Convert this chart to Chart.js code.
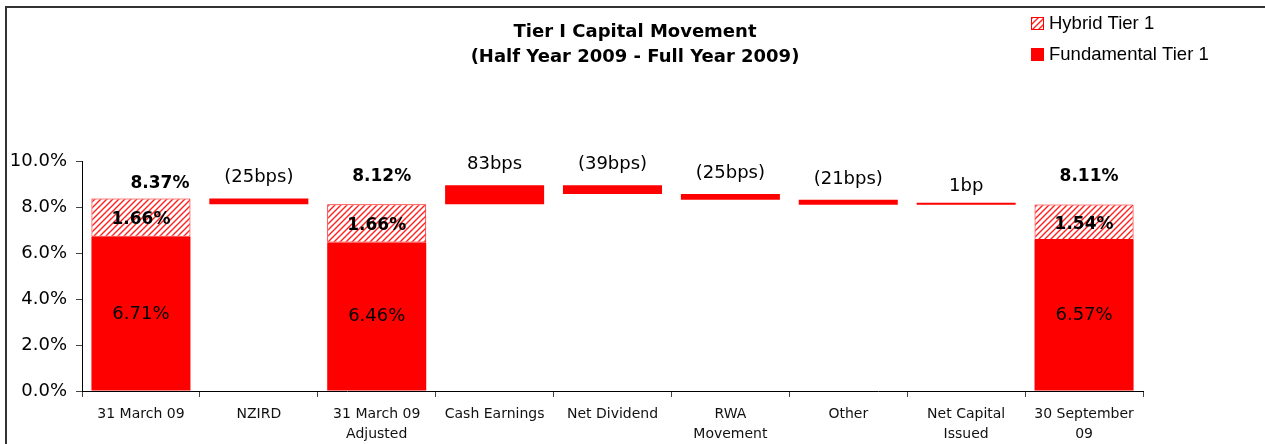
<!DOCTYPE html>
<html>
<head>
<meta charset="utf-8">
<script src="https://cdn.jsdelivr.net/npm/chart.js@4.4.0/dist/chart.umd.min.js"></script>
<style>
  html, body { margin: 0; padding: 0; background: #fff; }
  #wrap { position: relative; width: 1265px; height: 444px; }
</style>
</head>
<body>
<div id="wrap"><canvas id="c" width="1265" height="444"></canvas></div>
<script>
// ---- data ----
const categories = [
  '31 March 09', 'NZIRD', ['31 March 09', 'Adjusted'], 'Cash Earnings', 'Net Dividend',
  ['RWA', 'Movement'], 'Other', ['Net Capital', 'Issued'], ['30 September', '09']
];
const fundamentalTier1 = [6.71, null, 6.46, null, null, null, null, null, 6.57];
const hybridTier1      = [1.66, null, 1.66, null, null, null, null, null, 1.54];
const movementBps      = [null, -25, null, 83, -39, -25, -21, 1, null];
const yTicks = [0, 2, 4, 6, 8, 10];
const chartTitle = ['Tier I Capital Movement', '(Half Year 2009 - Full Year 2009)'];

// ---- build floating bars from the arrays ----
const totals = fundamentalTier1.map((f, i) => f == null ? null : +(f + hybridTier1[i]).toFixed(2));
const fundBars = [];
const hybBars = [];
let running = null;
for (let i = 0; i < categories.length; i++) {
  if (totals[i] != null) {
    fundBars.push([0, fundamentalTier1[i]]);
    hybBars.push([fundamentalTier1[i], totals[i]]);
    running = totals[i];
  } else {
    const next = +(running + movementBps[i] / 100).toFixed(2);
    fundBars.push([Math.min(running, next), Math.max(running, next)]);
    hybBars.push(null);
    running = next;
  }
}

// ---- hatch pattern ----
function makeHatch() {
  const p = document.createElement('canvas');
  p.width = 6; p.height = 6;
  const g = p.getContext('2d');
  g.fillStyle = '#fff';
  g.fillRect(0, 0, 6, 6);
  g.strokeStyle = '#ff2020';
  g.lineWidth = 1.4;
  g.beginPath();
  g.moveTo(-1, 7); g.lineTo(7, -1);
  g.moveTo(-4, 4); g.lineTo(4, -4);
  g.moveTo(2, 10); g.lineTo(10, 2);
  g.stroke();
  return document.getElementById('c').getContext('2d').createPattern(p, 'repeat');
}
const hatch = makeHatch();

const FONT = "'DejaVu Sans', Verdana, sans-serif";

function fmtBps(v) {
  const a = Math.abs(v);
  const s = a + (a === 1 ? 'bp' : 'bps');
  return v < 0 ? '(' + s + ')' : s;
}

const decorPlugin = {
  id: 'decor',
  beforeDraw(chart) {
    const ctx = chart.ctx;
    ctx.save();
    ctx.strokeStyle = '#333';
    ctx.lineWidth = 2;
    ctx.beginPath();
    ctx.moveTo(6, 444); ctx.lineTo(6, 7); ctx.lineTo(1265, 7);
    ctx.stroke();
    ctx.restore();
  },
  afterDraw(chart) {
    const ctx = chart.ctx;
    ctx.save();
    // title
    ctx.fillStyle = '#000';
    ctx.textAlign = 'center';
    ctx.textBaseline = 'middle';
    ctx.font = 'bold 18px ' + FONT;
    ctx.fillText(chartTitle[0], 635, 32);
    ctx.fillText(chartTitle[1], 635, 57);
    // legend
    const items = [
      { text: chart.data.datasets[1].label, fill: hatch, y: 23 },
      { text: chart.data.datasets[0].label, fill: '#ff0000', y: 54 }
    ];
    ctx.textAlign = 'left';
    ctx.font = "18.5px 'Liberation Sans', Arial, sans-serif";
    items.forEach(it => {
      ctx.fillStyle = it.fill;
      ctx.fillRect(1031, it.y - 6, 13, 13);
      if (it.fill === hatch) {
        ctx.strokeStyle = '#ff0000';
        ctx.lineWidth = 1;
        ctx.strokeRect(1031.5, it.y - 5.5, 12, 12);
      }
      ctx.fillStyle = '#000';
      ctx.fillText(it.text, 1049, it.y + 1);
    });
    ctx.restore();
  },
  afterDatasetsDraw(chart) {
    const ctx = chart.ctx;
    const y = chart.scales.y;
    const fMeta = chart.getDatasetMeta(0);
    ctx.save();
    ctx.fillStyle = '#000';
    ctx.textAlign = 'center';
    ctx.textBaseline = 'middle';
    for (let i = 0; i < categories.length; i++) {
      const bar = fMeta.data[i];
      const x = bar.x;
      if (totals[i] != null) {
        ctx.font = '18px ' + FONT;
        ctx.fillText(fundamentalTier1[i].toFixed(2) + '%', x, (y.getPixelForValue(0) + y.getPixelForValue(fundamentalTier1[i])) / 2);
        ctx.font = 'bold 17px ' + FONT;
        ctx.fillText(hybridTier1[i].toFixed(2) + '%', x, (y.getPixelForValue(fundamentalTier1[i]) + y.getPixelForValue(totals[i])) / 2 + 2);
        ctx.fillText(totals[i].toFixed(2) + '%', x + (i === 0 ? 19 : 5), y.getPixelForValue(totals[i]) - (i === 0 ? 15 : 28));
      } else {
        ctx.font = '18px ' + FONT;
        const top = Math.min(bar.y, bar.base);
        const off = Math.abs(movementBps[i]) < 5 ? 16 : 21;
        ctx.fillText(fmtBps(movementBps[i]), x, top - off);
      }
    }
    ctx.restore();
  }
};

new Chart(document.getElementById('c'), {
  type: 'bar',
  data: {
    labels: categories,
    datasets: [
      {
        label: 'Fundamental Tier 1',
        data: fundBars,
        backgroundColor: '#ff0000',
        borderWidth: 0,
        borderSkipped: false,
        minBarLength: 2,
        grouped: false,
        order: 1
      },
      {
        label: 'Hybrid Tier 1',
        data: hybBars,
        backgroundColor: hatch,
        borderColor: '#ff0000',
        borderWidth: 1,
        borderSkipped: false,
        grouped: false,
        order: 0
      }
    ]
  },
  options: {
    responsive: false,
    animation: false,
    devicePixelRatio: 1,
    layout: { padding: { top: 161, right: 122, left: 0, bottom: 0 } },
    plugins: {
      legend: { display: false },
      title: { display: false },
      tooltip: { enabled: false }
    },
    datasets: { bar: { categoryPercentage: 1, barPercentage: 0.84 } },
    scales: {
      x: {
        offset: true,
        grid: { display: true, offset: true, drawOnChartArea: false, drawTicks: true, tickLength: 6, color: '#444' },
        border: { display: true, color: '#000', width: 1 },
        ticks: { color: '#111', font: { family: FONT, size: 14, lineHeight: 1.45 }, maxRotation: 0, autoSkip: false, padding: 7 },
        afterFit(s) { s.height = 53; }
      },
      y: {
        min: 0, max: 10,
        afterBuildTicks(s) { s.ticks = yTicks.map(v => ({ value: v })); },
        grid: { display: true, drawOnChartArea: false, drawTicks: true, tickLength: 6, color: '#444' },
        border: { display: true, color: '#000', width: 1 },
        ticks: { color: '#000', font: { family: FONT, size: 18 }, padding: 9, callback: v => v.toFixed(1) + '%' },
        afterFit(s) { s.width = 82; }
      }
    }
  },
  plugins: [decorPlugin]
});
</script>
</body>
</html>
